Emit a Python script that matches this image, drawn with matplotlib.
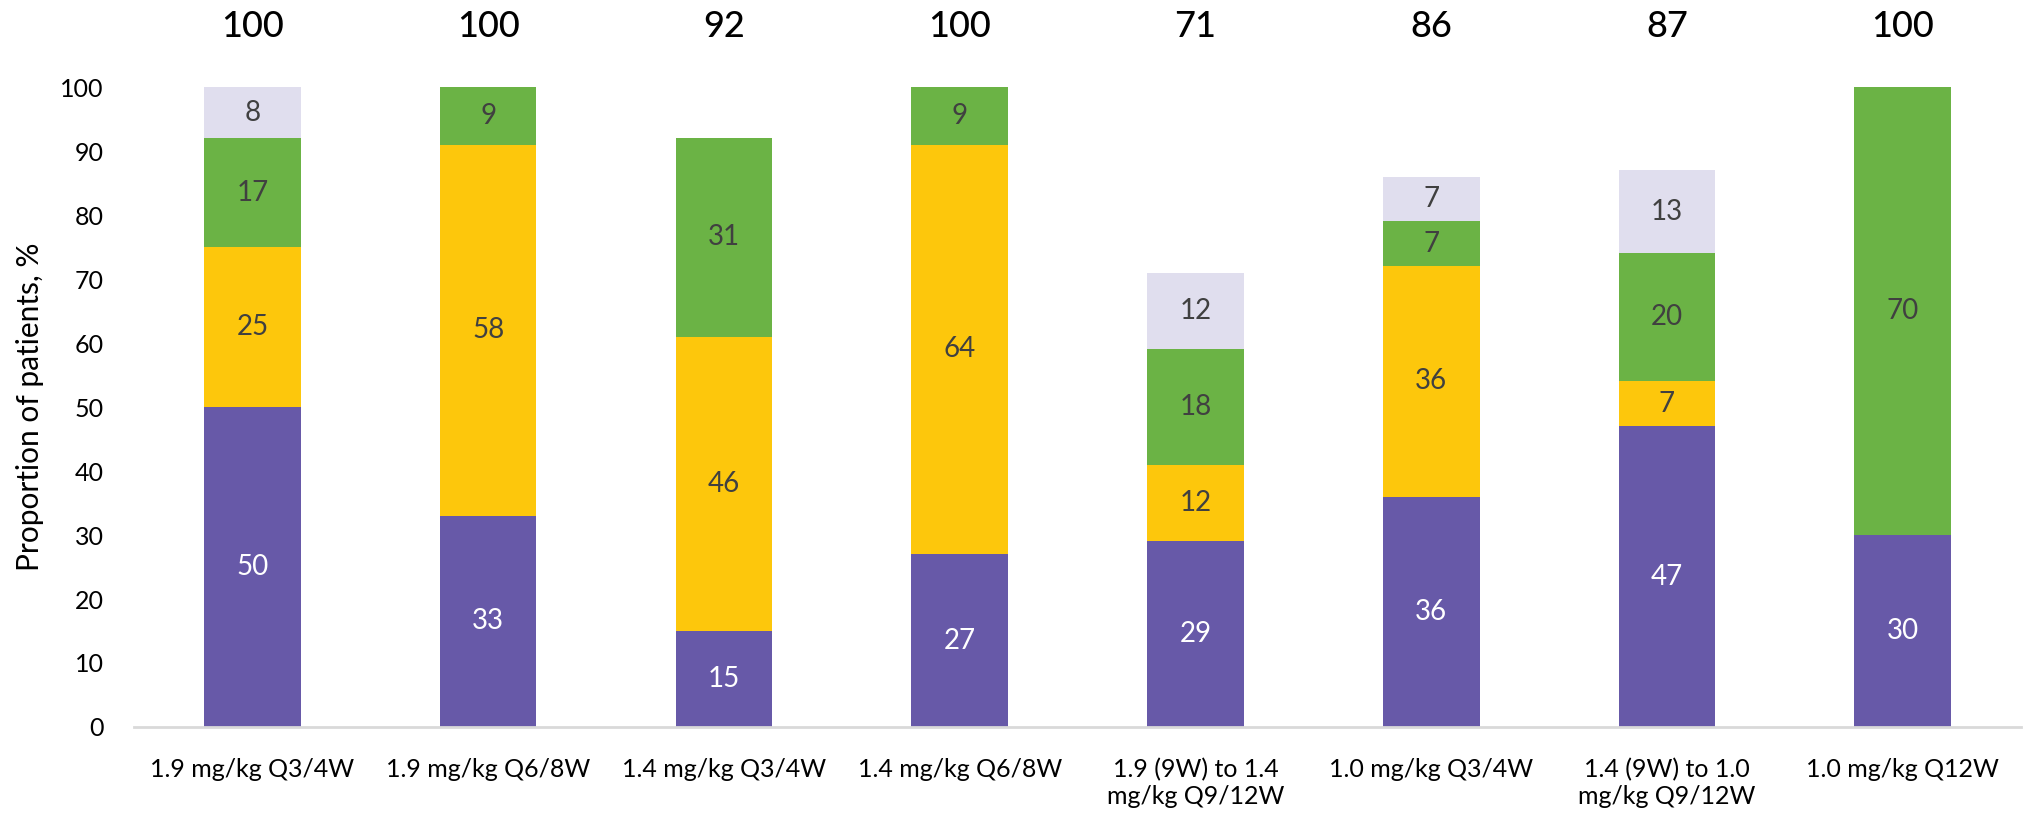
import matplotlib.pyplot as plt
import numpy as np

plt.rcParams['font.family'] = ['Lato', 'DejaVu Sans']

regimens = ["1.9 mg/kg Q3/4W", "1.9 mg/kg Q6/8W", "1.4 mg/kg Q3/4W", "1.4 mg/kg Q6/8W",
            "1.9 (9W) to 1.4\nmg/kg Q9/12W", "1.0 mg/kg Q3/4W",
            "1.4 (9W) to 1.0\nmg/kg Q9/12W", "1.0 mg/kg Q12W"]
purple = [50, 33, 15, 27, 29, 36, 47, 30]
yellow = [25, 58, 46, 64, 12, 36, 7, 0]
green = [17, 9, 31, 9, 18, 7, 20, 70]
lavender = [8, 0, 0, 0, 12, 7, 13, 0]
totals = [100, 100, 92, 100, 71, 86, 87, 100]

series = [
    (purple, "#6759A8", "white"),
    (yellow, "#FDC70C", "#404040"),
    (green, "#6BB345", "#404040"),
    (lavender, "#E0DEEE", "#404040"),
]

fig = plt.figure(figsize=(20.37, 8.22), dpi=100)
ax = fig.add_axes([0.066, 0.1156, 0.926, 0.7784])

x = np.arange(len(regimens))
bottom = np.zeros(len(regimens))
for vals, color, txt in series:
    vals = np.array(vals, dtype=float)
    ax.bar(x, vals, width=0.41, bottom=bottom, color=color, edgecolor="none")
    for xi, v, b in zip(x, vals, bottom):
        if v > 0:
            ax.text(xi, b + v / 2, f"{int(v)}", ha="center", va="center",
                    fontsize=20, color=txt)
    bottom += vals

for xi, t in zip(x, totals):
    ax.text(xi, 109.5, f"{t}", ha="center", va="center", fontsize=26,
            fontweight="medium", color="black", clip_on=False)

ax.set_xlim(-0.5, len(regimens) - 0.5)
ax.set_ylim(0, 100)
ax.set_yticks(range(0, 101, 10))
ax.set_xticks(x)
ax.set_xticklabels(regimens, fontsize=18)
ax.tick_params(axis="y", labelsize=18, length=0, pad=22)
ax.tick_params(axis="x", length=0, pad=22)
ax.set_ylabel("Proportion of patients, %", fontsize=21.5, labelpad=12)

for side in ["top", "right", "left"]:
    ax.spines[side].set_visible(False)
ax.spines["bottom"].set_color("#D9D9D9")
ax.spines["bottom"].set_linewidth(2)

fig.savefig("out.png", dpi=100)
